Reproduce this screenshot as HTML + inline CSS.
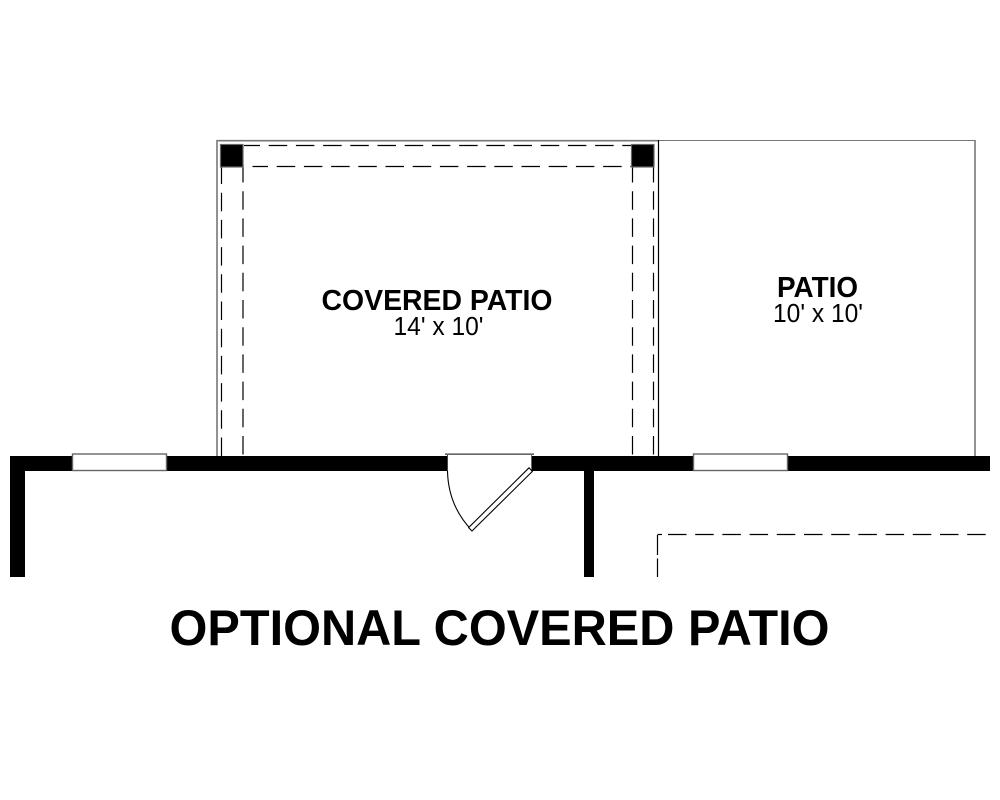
<!DOCTYPE html>
<html><head><meta charset="utf-8"><style>html,body{margin:0;padding:0;background:#fff}svg{display:block}text{font-family:"Liberation Sans",Arial,sans-serif;fill:#000;text-anchor:middle}</style></head>
<body>
<svg width="1000" height="800" viewBox="0 0 1000 800" xmlns="http://www.w3.org/2000/svg">
<rect width="1000" height="800" fill="#fff"/>
<!-- outlines -->
<path d="M217 456V140.7H658" fill="none" stroke="#777" stroke-width="1.6"/>
<path d="M658 140.5H975" fill="none" stroke="#777" stroke-width="1"/>
<path d="M975 140V456" fill="none" stroke="#777" stroke-width="1.6"/>
<path d="M658.5 140V456" fill="none" stroke="#000" stroke-width="1.2"/>
<!-- dashed beams -->
<g fill="none" stroke="#000" stroke-width="1.2" stroke-dasharray="18.5 8.7">
<path d="M221.5 165.5V456"/><path d="M243 164V456"/>
<path d="M632.5 164V456"/><path d="M653.5 164V456"/>
<path d="M244 145.5H631" stroke-dashoffset="2.5"/><path d="M252.5 166.5H631" stroke-dashoffset="3"/>
<path d="M657.5 577V558.5M657.5 555V535" stroke-dasharray="none"/>
<path d="M668 534.5H988"/>
</g>
<path d="M657.5 534.5H662" stroke="#000" stroke-width="1.2"/>
<!-- posts -->
<rect x="220.5" y="144.5" width="22.5" height="22.5" fill="#000" stroke="#666" stroke-width="1.2"/>
<rect x="631.5" y="144.5" width="22.5" height="22.5" fill="#000" stroke="#666" stroke-width="1.2"/>
<!-- walls -->
<rect x="10" y="456" width="980" height="15" fill="#000"/>
<rect x="10" y="456" width="15" height="121" fill="#000"/>
<rect x="584" y="456" width="10" height="121" fill="#000"/>
<!-- windows -->
<rect x="72.5" y="454" width="94" height="16.5" fill="#fff" stroke="#666" stroke-width="1.4"/>
<rect x="693.5" y="454" width="94" height="16.5" fill="#fff" stroke="#666" stroke-width="1.4"/>
<!-- door -->
<rect x="447.5" y="454" width="84" height="20" fill="#fff"/>
<path d="M445 454.2H534" stroke="#666" stroke-width="1.6" fill="none"/>
<path d="M447.5 455V471" stroke="#444" stroke-width="1" fill="none"/>
<path d="M531.5 455V468" stroke="#666" stroke-width="1" fill="none"/>
<path d="M447.5 471C448 495 457 515 472 530.5" stroke="#000" stroke-width="1.1" fill="none"/>
<path d="M472 531L468.6 527.6L529 467.8L532.4 471.4Z" fill="#fff" stroke="#000" stroke-width="1.1"/>
<!-- labels -->
<text x="437" y="310" font-size="28.5" font-weight="700" textLength="231" lengthAdjust="spacingAndGlyphs">COVERED PATIO</text>
<text x="438.5" y="335" font-size="25.5" textLength="90" lengthAdjust="spacingAndGlyphs">14' x 10'</text>
<text x="817.5" y="297" font-size="28.5" font-weight="700" textLength="81" lengthAdjust="spacingAndGlyphs">PATIO</text>
<text x="818" y="322" font-size="25.5" textLength="90" lengthAdjust="spacingAndGlyphs">10' x 10'</text>
<text x="499.5" y="645" font-size="50" font-weight="700" textLength="660" lengthAdjust="spacingAndGlyphs">OPTIONAL COVERED PATIO</text>
</svg>
</body></html>
